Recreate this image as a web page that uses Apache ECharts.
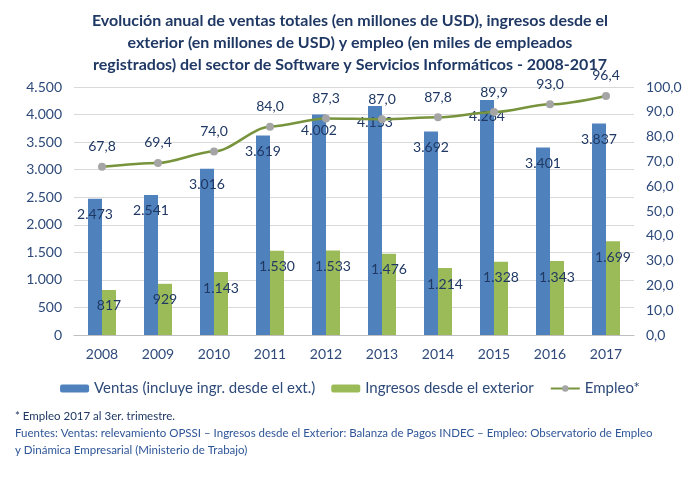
<!DOCTYPE html>
<html><head><meta charset="utf-8">
<script src="https://cdn.jsdelivr.net/npm/echarts@6/dist/echarts.min.js"></script>
<style>html,body{margin:0;padding:0;background:#fff}#c{width:700px;height:480px}</style>
</head><body><div id="c"></div>
<script>
const years = ['2008','2009','2010','2011','2012','2013','2014','2015','2016','2017'];
const ventas = [2473,2541,3016,3619,4002,4153,3692,4264,3401,3837];
const ingresos = [817,929,1143,1530,1533,1476,1214,1328,1343,1699];
const empleo = [67.8,69.4,74.0,84.0,87.3,87.0,87.8,89.9,93.0,96.4];
const titleText = 'Evolución anual de ventas totales (en millones de USD), ingresos desde el\nexterior (en millones de USD) y empleo (en miles de empleados\nregistrados) del sector de Software y Servicios Informáticos - 2008-2017';
const note1 = '* Empleo 2017 al 3er. trimestre.';
const note2 = 'Fuentes: Ventas: relevamiento OPSSI – Ingresos desde el Exterior: Balanza de Pagos INDEC – Empleo: Observatorio de Empleo';
const note3 = 'y Dinámica Empresarial (Ministerio de Trabajo)';

const FONT = 'Lato, "Open Sans", sans-serif';
const txt = '#2E4A7A';
const lab = '#1F3864';
const thou = v => Math.round(v).toString().replace(/\B(?=(\d{3})+(?!\d))/g, '.');
const dec = v => v.toFixed(1).replace('.', ',');

const chart = echarts.init(document.getElementById('c'), null, {renderer:'canvas'});
chart.setOption({
  animation:false,
  textStyle:{fontFamily:FONT},
  title:{text:titleText,left:'center',top:5,textStyle:{fontFamily:FONT,fontSize:16,fontWeight:'bold',color:'#1F3864',lineHeight:22}},
  grid:{left:74,right:66,top:87,bottom:145},
  legend:{top:376,left:'center',itemGap:16,itemWidth:29,itemHeight:8,
    textStyle:{fontFamily:FONT,fontSize:15,color:'#2E4A7A'},
    data:[{name:'Ventas (incluye ingr. desde el ext.)'},{name:'Ingresos desde el exterior'},{name:'Empleo*'}]},
  xAxis:{type:'category',data:years,axisTick:{show:false},
    axisLine:{lineStyle:{color:'#BFBFBF'}},
    axisLabel:{fontFamily:FONT,fontSize:14,color:txt,margin:12}},
  yAxis:[
    {type:'value',min:0,max:4500,interval:500,axisLine:{show:false},axisTick:{show:false},
     splitLine:{lineStyle:{color:'#D9D9D9'}},
     axisLabel:{fontFamily:FONT,fontSize:14,color:txt,formatter:thou,margin:12}},
    {type:'value',min:0,max:100,interval:10,axisLine:{show:false},axisTick:{show:false},
     splitLine:{show:false},
     axisLabel:{fontFamily:FONT,fontSize:14,color:txt,formatter:dec,margin:12}}
  ],
  series:[
    {name:'Ventas (incluye ingr. desde el ext.)',type:'bar',data:ventas,barWidth:14,barGap:'0%',
     itemStyle:{color:'#4F81BD'},
     label:{show:true,position:'insideTop',distance:9,fontFamily:FONT,fontSize:14,color:lab,formatter:p=>thou(p.value)}},
    {name:'Ingresos desde el exterior',type:'bar',data:ingresos,barWidth:14,barGap:'0%',
     itemStyle:{color:'#9BBB59'},
     label:{show:true,position:'insideTop',distance:9,fontFamily:FONT,fontSize:14,color:lab,formatter:p=>thou(p.value)}},
    {name:'Empleo*',type:'line',yAxisIndex:1,data:empleo,smooth:0.3,smoothMonotone:'x',symbol:'circle',symbolSize:8,
     lineStyle:{color:'#77933C',width:2.5},itemStyle:{color:'#A5A5A5'},
     label:{show:true,position:'top',distance:9,fontFamily:FONT,fontSize:14,color:lab,formatter:p=>dec(p.value)}}
  ],
  graphic:[
    {type:'text',left:15,top:410,style:{text:note1,fontFamily:FONT,fontSize:11.5,fill:'#1F3864'}},
    {type:'text',left:15,top:427,style:{text:note2,fontFamily:FONT,fontSize:11.5,fill:'#2E5597'}},
    {type:'text',left:15,top:444,style:{text:note3,fontFamily:FONT,fontSize:11.5,fill:'#2E5597'}}
  ]
});
</script></body></html>
